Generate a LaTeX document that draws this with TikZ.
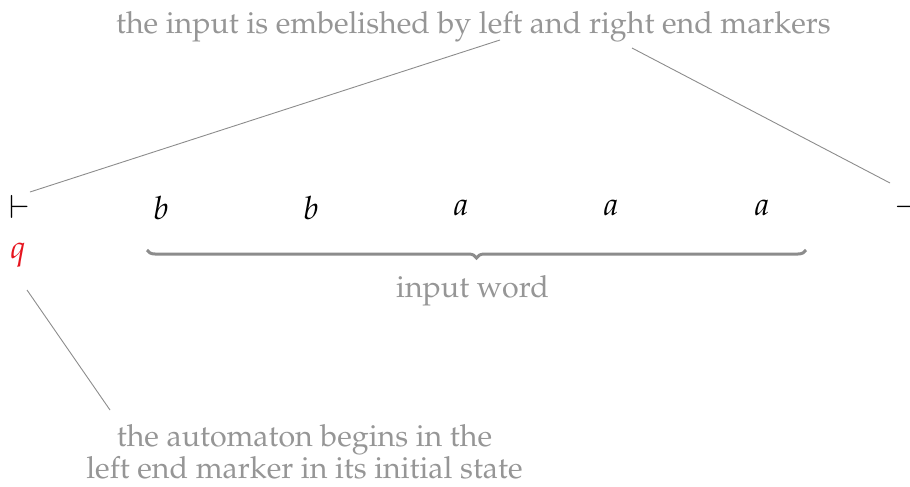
\documentclass[tikz,border=0pt]{standalone}
\usepackage[T1]{fontenc}
\usepackage{mathpazo}
\usetikzlibrary{decorations.pathreplacing}
\definecolor{txtgray}{RGB}{150,150,150}
\definecolor{linegray}{RGB}{140,140,140}
\definecolor{qred}{RGB}{230,20,30}
\begin{document}
\begin{tikzpicture}[x=1pt,y=-1pt,
  sym/.style={font=\fontsize{32}{38}\selectfont, inner sep=0pt},
  note/.style={text=txtgray, font=\fontsize{30.4}{32}\selectfont, align=center, inner sep=0pt},
  lead/.style={draw=linegray, line width=0.9pt}]
\useasboundingbox (0,0) rectangle (910,487);
\node[sym] (lm) at (20,207) {$\vdash$};
\node[sym] (rm) at (906,207) {$\dashv$};
\node[sym] (s1) at (161,208) {$b$};
\node[sym] (s2) at (311,208) {$b$};
\node[sym] (s3) at (461,208) {$a$};
\node[sym] (s4) at (611,208) {$a$};
\node[sym] (s5) at (762,208) {$a$};
\node[sym, text=qred] (q) at (18,255) {$q$};
\node[note] (top) at (473.5,26.5) {the input is embelished by left and right end markers};
\node[note] (word) at (472.5,291) {input word};
\node[note] (bot) at (304.5,452) {the automaton begins in the\\left end marker in its initial state};
\coordinate (bl) at (147,250);
\coordinate (br) at (806,250);
\draw[draw=linegray, line width=3pt, decorate, decoration={brace, mirror, amplitude=8pt}] (bl) -- (br);
\coordinate (t1) at (500,40);
\coordinate (t2) at (632,48);
\coordinate (l1) at (30,192);
\coordinate (r1) at (890,183);
\coordinate (q1) at (27,290);
\coordinate (b1) at (110,410);
\draw[lead] (t1) -- (l1);
\draw[lead] (t2) -- (r1);
\draw[lead] (q1) -- (b1);
\end{tikzpicture}
\end{document}
